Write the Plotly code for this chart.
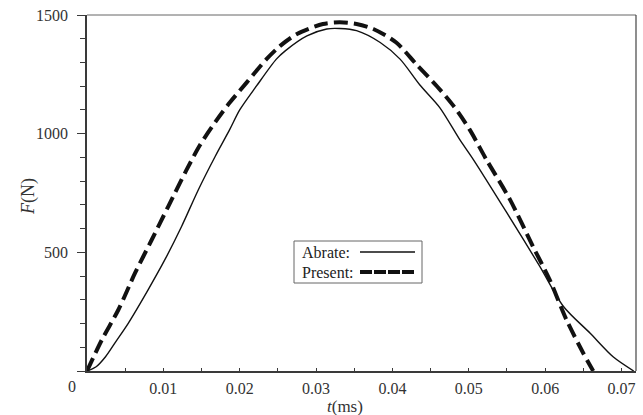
import plotly.graph_objects as go

# Contact force histories: time in ms, force in N
t_abrate = [0.0, 0.0012, 0.0024, 0.0038, 0.0054, 0.0080, 0.0102, 0.0124,
            0.0146, 0.0168, 0.0187, 0.0200, 0.0222, 0.0248, 0.0260, 0.0288,
            0.0314, 0.0331, 0.0353, 0.0384, 0.0410, 0.0436, 0.0462, 0.0488,
            0.0506, 0.0550, 0.0593, 0.0624, 0.0659, 0.0689, 0.0716]
f_abrate = [0, 18, 59, 125, 201, 342, 469, 610,
            765, 905, 1018, 1100, 1201, 1314, 1350, 1412,
            1441, 1443, 1434, 1384, 1314, 1205, 1110, 976,
            891, 666, 441, 272, 159, 60, 0]

t_present = [0.0, 0.00194, 0.00411, 0.0063, 0.00848, 0.01065, 0.0130, 0.0148,
             0.0170, 0.0187, 0.0209, 0.0235, 0.0253, 0.0275, 0.0309, 0.0331,
             0.0353, 0.0375, 0.0405, 0.0432, 0.0458, 0.0480, 0.0501, 0.0523,
             0.0554, 0.0584, 0.0606, 0.0628, 0.0650, 0.0663]
f_present = [0, 131, 258, 413, 553, 694, 845, 952,
             1058, 1131, 1215, 1314, 1370, 1420, 1462, 1469,
             1462, 1441, 1384, 1290, 1201, 1117, 1018, 891,
             722, 525, 384, 215, 75, 0]

x_ticks = [0, 0.01, 0.02, 0.03, 0.04, 0.05, 0.06, 0.07]
x_ticktext = ["", "0.01", "0.02", "0.03", "0.04", "0.05", "0.06", "0.07"]
y_ticks = [0, 500, 1000, 1500]
y_ticktext = ["", "500", "1000", "1500"]

FONT = "Liberation Serif"
TXT = "#333333"
AX = "#3a3a3a"

fig = go.Figure()
fig.add_trace(go.Scatter(x=t_abrate, y=f_abrate, mode="lines", name="Abrate:",
                         line=dict(color="#111111", width=1.4, shape="spline", smoothing=0.8)))
fig.add_trace(go.Scatter(x=t_present, y=f_present, mode="lines", name="Present:",
                         line=dict(color="#111111", width=4, dash="14px,6px",
                                   shape="spline", smoothing=0.8)))

fig.update_xaxes(range=[0, 0.0719], tickvals=x_ticks, ticktext=x_ticktext,
                 ticks="inside", ticklen=3, tickwidth=1, tickcolor=AX,
                 showline=True, linecolor=AX, linewidth=1.5, mirror=False,
                 showgrid=False, zeroline=False, ticklabelstandoff=2,
                 tickfont=dict(family=FONT, size=16, color=TXT),
                 minor=dict(dtick=0.005, tick0=0, ticks="inside", ticklen=3,
                            tickcolor=AX, tickwidth=1, showgrid=False))
fig.update_yaxes(range=[0, 1500], tickvals=y_ticks, ticktext=y_ticktext,
                 ticks="outside", ticklen=8, tickwidth=1, tickcolor=AX,
                 showline=True, linecolor=AX, linewidth=1.5, mirror=False,
                 showgrid=False, zeroline=False, ticklabelstandoff=6,
                 tickfont=dict(family=FONT, size=16, color=TXT),
                 minor=dict(dtick=100, tick0=0, ticks="outside", ticklen=5,
                            tickcolor=AX, tickwidth=1, showgrid=False))

shapes = [
    # top and right frame lines
    dict(type="line", xref="paper", yref="paper", x0=0, x1=1, y0=1, y1=1,
         line=dict(color="#666666", width=1)),
    dict(type="line", xref="paper", yref="paper", x0=1, x1=1, y0=0, y1=1,
         line=dict(color="#444444", width=1.2)),
    # legend box
    dict(type="rect", xref="paper", yref="paper",
         x0=(294 - 87) / 549, x1=(422 - 87) / 549,
         y0=(371 - 283) / 356, y1=(371 - 241) / 356,
         line=dict(color="#666666", width=1), fillcolor="white"),
    dict(type="line", xref="paper", yref="paper",
         x0=(360 - 87) / 549, x1=(415 - 87) / 549,
         y0=(371 - 252) / 356, y1=(371 - 252) / 356,
         line=dict(color="#111111", width=1.6)),
    dict(type="line", xref="paper", yref="paper",
         x0=(360 - 87) / 549, x1=(415 - 87) / 549,
         y0=(371 - 272) / 356, y1=(371 - 272) / 356,
         line=dict(color="#111111", width=4, dash="12px,2px")),
]

annotations = [
    dict(text="Abrate:", xref="paper", yref="paper", x=(300 - 87) / 549,
         y=(371 - 252) / 356, xanchor="left", yanchor="middle", showarrow=False,
         font=dict(family=FONT, size=16, color="#222222")),
    dict(text="Present:", xref="paper", yref="paper", x=(300 - 87) / 549,
         y=(371 - 272) / 356, xanchor="left", yanchor="middle", showarrow=False,
         font=dict(family=FONT, size=16, color="#222222")),
    dict(text="0", xref="paper", yref="paper", x=(72 - 87) / 549,
         y=(371 - 386) / 356, xanchor="center", yanchor="middle", showarrow=False,
         font=dict(family=FONT, size=16, color=TXT)),
    dict(text="<i>t</i>(ms)", xref="paper", yref="paper", x=(345 - 87) / 549,
         y=(371 - 406) / 356, xanchor="center", yanchor="middle", showarrow=False,
         font=dict(family=FONT, size=17, color=TXT)),
    dict(text="<i>F</i>(N)", xref="paper", yref="paper", x=(28 - 87) / 549,
         y=(371 - 197) / 356, xanchor="center", yanchor="middle", showarrow=False,
         textangle=-90, font=dict(family=FONT, size=18, color=TXT)),
]

fig.update_layout(width=643, height=415, margin=dict(l=87, r=7, t=15, b=44),
                  plot_bgcolor="white", paper_bgcolor="white", showlegend=False,
                  shapes=shapes, annotations=annotations)

fig.write_html("out.html")
